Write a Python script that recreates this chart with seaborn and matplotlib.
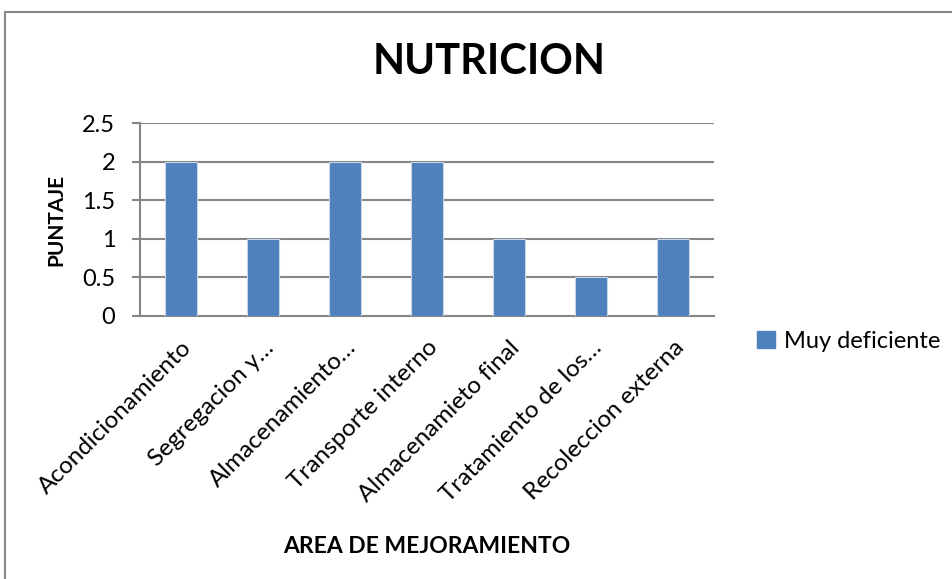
import matplotlib
matplotlib.use("Agg")
import matplotlib.pyplot as plt
import seaborn as sns
import pandas as pd
from matplotlib.patches import Rectangle, Patch

categorias = [
    "Acondicionamiento",
    "Segregacion y…",
    "Almacenamiento…",
    "Transporte interno",
    "Almacenamieto final",
    "Tratamiento de los…",
    "Recoleccion externa",
]
puntaje = [2, 1, 2, 2, 1, 0.5, 1]
serie = "Muy deficiente"
y_ticks = [0, 0.5, 1, 1.5, 2, 2.5]
y_tick_labels = ["0", "0.5", "1", "1.5", "2", "2.5"]

sns.set_theme(style="white")
plt.rcParams["font.family"] = ["Lato", "DejaVu Sans"]
plt.rcParams["text.color"] = "black"
plt.rcParams["axes.labelcolor"] = "black"

df = pd.DataFrame({"area": categorias, "puntaje": puntaje, "serie": serie})

fig = plt.figure(figsize=(9.53, 5.79), dpi=100)
ax = fig.add_axes([140 / 953, 1 - 316 / 579, 574 / 953, 193 / 579])

bar_color = "#4F81BD"
sns.barplot(data=df, x="area", y="puntaje", color=bar_color, saturation=1,
            width=0.39, edgecolor="#C9D7EA", linewidth=0.8, ax=ax, zorder=3)

grid_color = "#868686"
ax.set_ylim(0, 2.5)
ax.set_yticks(y_ticks)
ax.set_yticklabels(y_tick_labels, fontsize=17)
ax.yaxis.grid(True, color=grid_color, linewidth=1.5, zorder=0)
ax.set_axisbelow(True)
for side in ["top", "right"]:
    ax.spines[side].set_visible(False)
ax.spines["left"].set_color(grid_color)
ax.spines["left"].set_linewidth(1.5)
ax.spines["bottom"].set_color(grid_color)
ax.spines["bottom"].set_linewidth(1.5)
ax.tick_params(axis="y", which="both", left=True, length=5.8, width=1.5,
               color=grid_color, labelcolor="black", pad=12)
ax.tick_params(axis="x", bottom=False, pad=9, labelcolor="black")
ax.set_xlim(-0.5, len(categorias) - 0.5)
ax.set_xticks(range(len(categorias)))
ax.set_xticklabels(categorias, rotation=45, ha="right", rotation_mode="anchor",
                   fontsize=17.5)

ax.set_xlabel("AREA DE MEJORAMIENTO", fontsize=16.5, fontweight="bold", labelpad=22)
ax.set_ylabel("PUNTAJE", fontsize=15, fontweight="bold", labelpad=11)

fig.text(489 / 953, 1 - 62 / 579, "NUTRICION", ha="center", va="center",
         fontsize=30, fontweight="bold")

handle = Patch(facecolor=bar_color, edgecolor=bar_color)
fig.legend([handle], [serie], loc="center left",
           bbox_to_anchor=(757 / 953, 1 - 341 / 579), frameon=False,
           borderpad=0, borderaxespad=0,
           fontsize=17, handlelength=0.75, handleheight=0.75, handletextpad=0.4)

# outer chart border (left and top edges visible)
fig.patches.append(Rectangle((5 / 953, -0.1), 1.2, 1 - 12 / 579 + 0.1,
                             transform=fig.transFigure, fill=False,
                             edgecolor="#888888", linewidth=1.5))

fig.savefig("out.png", dpi=100)
